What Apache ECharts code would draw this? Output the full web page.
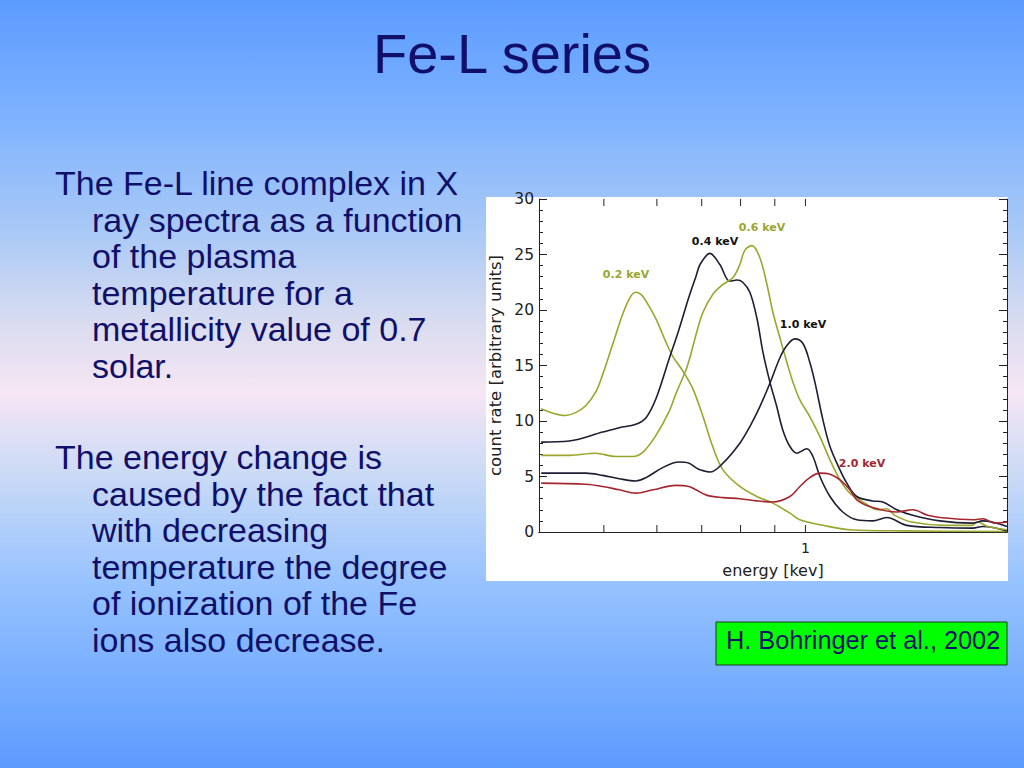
<!DOCTYPE html>
<html><head><meta charset="utf-8">
<script src="https://cdn.jsdelivr.net/npm/echarts@6/dist/echarts.min.js"></script>
<style>html,body{margin:0;padding:0;width:1024px;height:768px;overflow:hidden}#c{width:1024px;height:768px}</style>
</head><body><div id="c"></div>
<script>
// ---- data (energy keV, count rate) ----
const curveNames = ['0.2 keV', '0.4 keV', '0.6 keV', '1.0 keV', '2.0 keV'];
const t02 = [[0.403,11.1],[0.420,10.7],[0.437,10.5],[0.455,10.8],[0.470,11.4],[0.486,12.6],[0.498,14.2],[0.516,17.0],[0.534,19.7],[0.548,21.2],[0.558,21.6],[0.568,21.4],[0.578,20.8],[0.598,19.2],[0.619,17.1],[0.634,15.8],[0.656,14.5],[0.679,12.9],[0.703,10.4],[0.727,7.7],[0.753,5.6],[0.798,4.1],[0.846,3.2],[0.894,2.6],[0.948,1.7],[0.981,1.1],[1.062,0.6],[1.165,0.2],[1.40,0.1],[2.0,0.05]];
const t04 = [[0.403,8.1],[0.444,8.2],[0.498,9.0],[0.527,9.4],[0.558,9.7],[0.578,10.3],[0.598,12.0],[0.625,15.5],[0.647,18.2],[0.670,21.2],[0.686,23.0],[0.696,24.1],[0.720,25.1],[0.745,24.1],[0.771,22.6],[0.790,22.7],[0.806,22.5],[0.826,21.6],[0.846,19.3],[0.864,16.2],[0.885,13.5],[0.906,11.3],[0.925,9.2],[0.948,7.7],[0.971,7.1],[1.005,7.5],[1.026,6.8],[1.051,5.0],[1.088,3.2],[1.137,1.8],[1.193,1.1],[1.260,1.0],[1.323,1.3],[1.417,0.6],[1.587,0.4],[1.778,0.35],[1.840,0.5],[2.0,0.1]];
const t06 = [[0.403,6.9],[0.444,6.9],[0.486,7.1],[0.521,6.8],[0.552,6.8],[0.572,7.2],[0.598,8.7],[0.625,10.8],[0.640,12.4],[0.663,14.6],[0.672,15.7],[0.688,18.0],[0.703,19.8],[0.727,21.4],[0.753,22.3],[0.779,22.9],[0.798,24.1],[0.812,25.4],[0.832,25.8],[0.855,24.7],[0.876,22.3],[0.894,19.8],[0.916,17.5],[0.938,15.3],[0.958,13.5],[0.981,11.9],[1.015,10.4],[1.051,8.6],[1.088,6.5],[1.126,4.7],[1.165,3.5],[1.227,2.6],[1.282,2.0],[1.323,2.1],[1.360,1.5],[1.441,0.9],[1.614,0.6],[1.772,0.6],[1.808,0.9],[1.872,0.5],[2.0,0.2]];
const t10 = [[0.403,5.3],[0.470,5.3],[0.498,5.1],[0.527,4.8],[0.558,4.6],[0.578,4.9],[0.612,5.8],[0.647,6.3],[0.670,6.2],[0.686,5.8],[0.696,5.6],[0.720,5.4],[0.753,6.2],[0.798,8.0],[0.826,9.5],[0.855,11.3],[0.885,13.4],[0.916,15.7],[0.938,16.8],[0.964,17.4],[0.991,17.0],[1.015,15.3],[1.033,13.5],[1.062,10.1],[1.088,7.7],[1.126,5.6],[1.153,4.4],[1.193,3.2],[1.260,2.8],[1.305,2.7],[1.369,2.0],[1.446,1.5],[1.587,1.0],[1.778,0.8],[1.840,1.0],[2.0,0.5]];
const t20 = [[0.403,4.4],[0.470,4.3],[0.498,4.1],[0.527,3.8],[0.558,3.5],[0.592,3.8],[0.640,4.2],[0.670,4.1],[0.686,3.8],[0.713,3.3],[0.753,3.1],[0.798,3.0],[0.846,2.8],[0.894,2.7],[0.948,3.2],[0.981,4.1],[1.015,4.9],[1.051,5.3],[1.088,5.2],[1.126,4.7],[1.165,3.8],[1.193,2.9],[1.260,2.2],[1.369,1.8],[1.446,2.0],[1.523,1.5],[1.587,1.3],[1.778,1.1],[1.840,1.2],[1.917,0.8],[2.0,0.9]];
const xTickValues = [0.5, 0.6, 0.7, 0.8, 0.9, 1];
const xLabelValues = ['1'];
const yRange = [0, 30];

const titleText = 'Fe-L series';
const para1 = ['The Fe-L line complex in X', 'ray spectra as a function', 'of the plasma', 'temperature for a', 'metallicity value of 0.7', 'solar.'];
const para2 = ['The energy change is', 'caused by the fact that', 'with decreasing', 'temperature the degree', 'of ionization of the Fe', 'ions also decrease.'];
const citation = 'H. Bohringer et al., 2002';

// ---- styles ----
const OLIVE = '#9aa62c', NAVY = '#1d1e33', RED = '#a5262f';
const TXT = '#10106a';
const SANS = '"Liberation Sans", Arial, sans-serif';
const PLOT = '"DejaVu Sans", sans-serif';

const chart = echarts.init(document.getElementById('c'), null, {renderer: 'svg'});

const textLines = [];
para1.forEach((t, i) => textLines.push({type: 'text', z: 100, x: i === 0 ? 55 : 92, y: 183 + i * 36.6,
  style: {text: t, fill: TXT, font: '34px ' + SANS, textVerticalAlign: 'middle'}}));
para2.forEach((t, i) => textLines.push({type: 'text', z: 100, x: i === 0 ? 55 : 92, y: 457 + i * 36.6,
  style: {text: t, fill: TXT, font: '34px ' + SANS, textVerticalAlign: 'middle'}}));

const curveLabels = [
  {text: curveNames[0], x: 626, y: 274, c: OLIVE},
  {text: curveNames[1], x: 715, y: 241, c: '#111'},
  {text: curveNames[2], x: 762, y: 227, c: OLIVE},
  {text: curveNames[3], x: 803, y: 324, c: '#111'},
  {text: curveNames[4], x: 862, y: 463, c: RED}
].map(l => ({type: 'text', z: 100, x: l.x, y: l.y,
  style: {text: l.text, fill: l.c, font: 'bold 11px ' + PLOT, textAlign: 'center', textVerticalAlign: 'middle'}}));

function lineSeries(name, data, color) {
  return {type: 'line', name, data, smooth: 0.35, showSymbol: false, symbol: 'none', silent: true,
    lineStyle: {color, width: 1.6}, z: 5};
}

const axisCommon = {
  axisLine: {show: true, lineStyle: {color: '#222', width: 1}},
  splitLine: {show: false}
};

chart.setOption({
  animation: false,
  backgroundColor: {type: 'linear', x: 0, y: 0, x2: 0, y2: 1, colorStops: [
    {offset: 0, color: '#5c9bff'},
    {offset: 0.15, color: '#7db2ff'},
    {offset: 0.3, color: '#a9c9f6'},
    {offset: 0.42, color: '#d9dcf0'},
    {offset: 0.51, color: '#f6e6f4'},
    {offset: 0.62, color: '#c9daf6'},
    {offset: 0.76, color: '#96c2ff'},
    {offset: 1, color: '#5c9bff'}
  ]},
  title: {text: titleText, left: 'center', top: 20,
    textStyle: {fontFamily: SANS, fontSize: 56, fontWeight: 'normal', color: TXT}},
  grid: {left: 539, top: 199, width: 468, height: 333, containLabel: false},
  xAxis: [
    Object.assign({type: 'log', logBase: 10, min: 0.4, max: 2, position: 'bottom',
      name: 'energy [kev]', nameLocation: 'middle', nameGap: 30,
      nameTextStyle: {fontFamily: PLOT, fontSize: 16, color: '#222'},
      axisTick: {show: false}, minorTick: {show: false},
      axisLabel: {show: true, margin: 9, fontFamily: PLOT, fontSize: 14, color: '#222',
        formatter: v => (xLabelValues.indexOf(String(Math.round(v * 1e6) / 1e6)) >= 0 ? String(Math.round(v * 1e6) / 1e6) : '')}
    }, axisCommon),
    Object.assign({type: 'log', logBase: 10, min: 0.4, max: 2, position: 'top',
      axisTick: {show: false}, axisLabel: {show: false}}, axisCommon)
  ],
  yAxis: [
    Object.assign({type: 'value', min: yRange[0], max: yRange[1], interval: 5, position: 'left',
      name: 'count rate [arbitrary units]', nameLocation: 'middle', nameGap: 35, nameRotate: 90,
      nameTextStyle: {fontFamily: PLOT, fontSize: 16.5, color: '#222'},
      axisTick: {show: true, inside: true, length: 8, lineStyle: {color: '#222'}},
      minorTick: {show: true, splitNumber: 5, length: 4, lineStyle: {color: '#222'}},
      axisLabel: {margin: 5, fontFamily: PLOT, fontSize: 15.5, color: '#222'}}, axisCommon),
    Object.assign({type: 'value', min: yRange[0], max: yRange[1], interval: 5, position: 'right',
      axisTick: {show: true, inside: true, length: 8, lineStyle: {color: '#222'}},
      minorTick: {show: true, splitNumber: 5, length: 4, lineStyle: {color: '#222'}},
      axisLabel: {show: false}}, axisCommon)
  ],
  graphic: [
    {type: 'rect', z: -10, shape: {x: 486, y: 197, width: 522, height: 384}, style: {fill: '#ffffff'}},
    {type: 'rect', z: 50, shape: {x: 716, y: 622, width: 291, height: 43}, style: {fill: '#00ff00', stroke: '#1d3a1d', lineWidth: 1}},
    {type: 'text', z: 100, x: 726, y: 640, style: {text: citation, fill: TXT, font: '25.3px ' + SANS, textVerticalAlign: 'middle'}}
  ].concat(textLines, curveLabels),
  series: [
    lineSeries(curveNames[0], t02, OLIVE),
    lineSeries(curveNames[1], t04, NAVY),
    lineSeries(curveNames[2], t06, OLIVE),
    lineSeries(curveNames[3], t10, NAVY),
    lineSeries(curveNames[4], t20, RED),
    {type: 'custom', silent: true, clip: false, z: 6,
      data: xTickValues.map(v => [v, 0]),
      renderItem: function (params, api) {
        const b = api.coord([api.value(0), yRange[0]]);
        const t = api.coord([api.value(0), yRange[1]]);
        return {type: 'group', children: [
          {type: 'line', shape: {x1: b[0], y1: b[1], x2: b[0], y2: b[1] - 7}, style: {stroke: '#222', lineWidth: 1}},
          {type: 'line', shape: {x1: t[0], y1: t[1], x2: t[0], y2: t[1] + 7}, style: {stroke: '#222', lineWidth: 1}}
        ]};
      }}
  ]
});
</script></body></html>
